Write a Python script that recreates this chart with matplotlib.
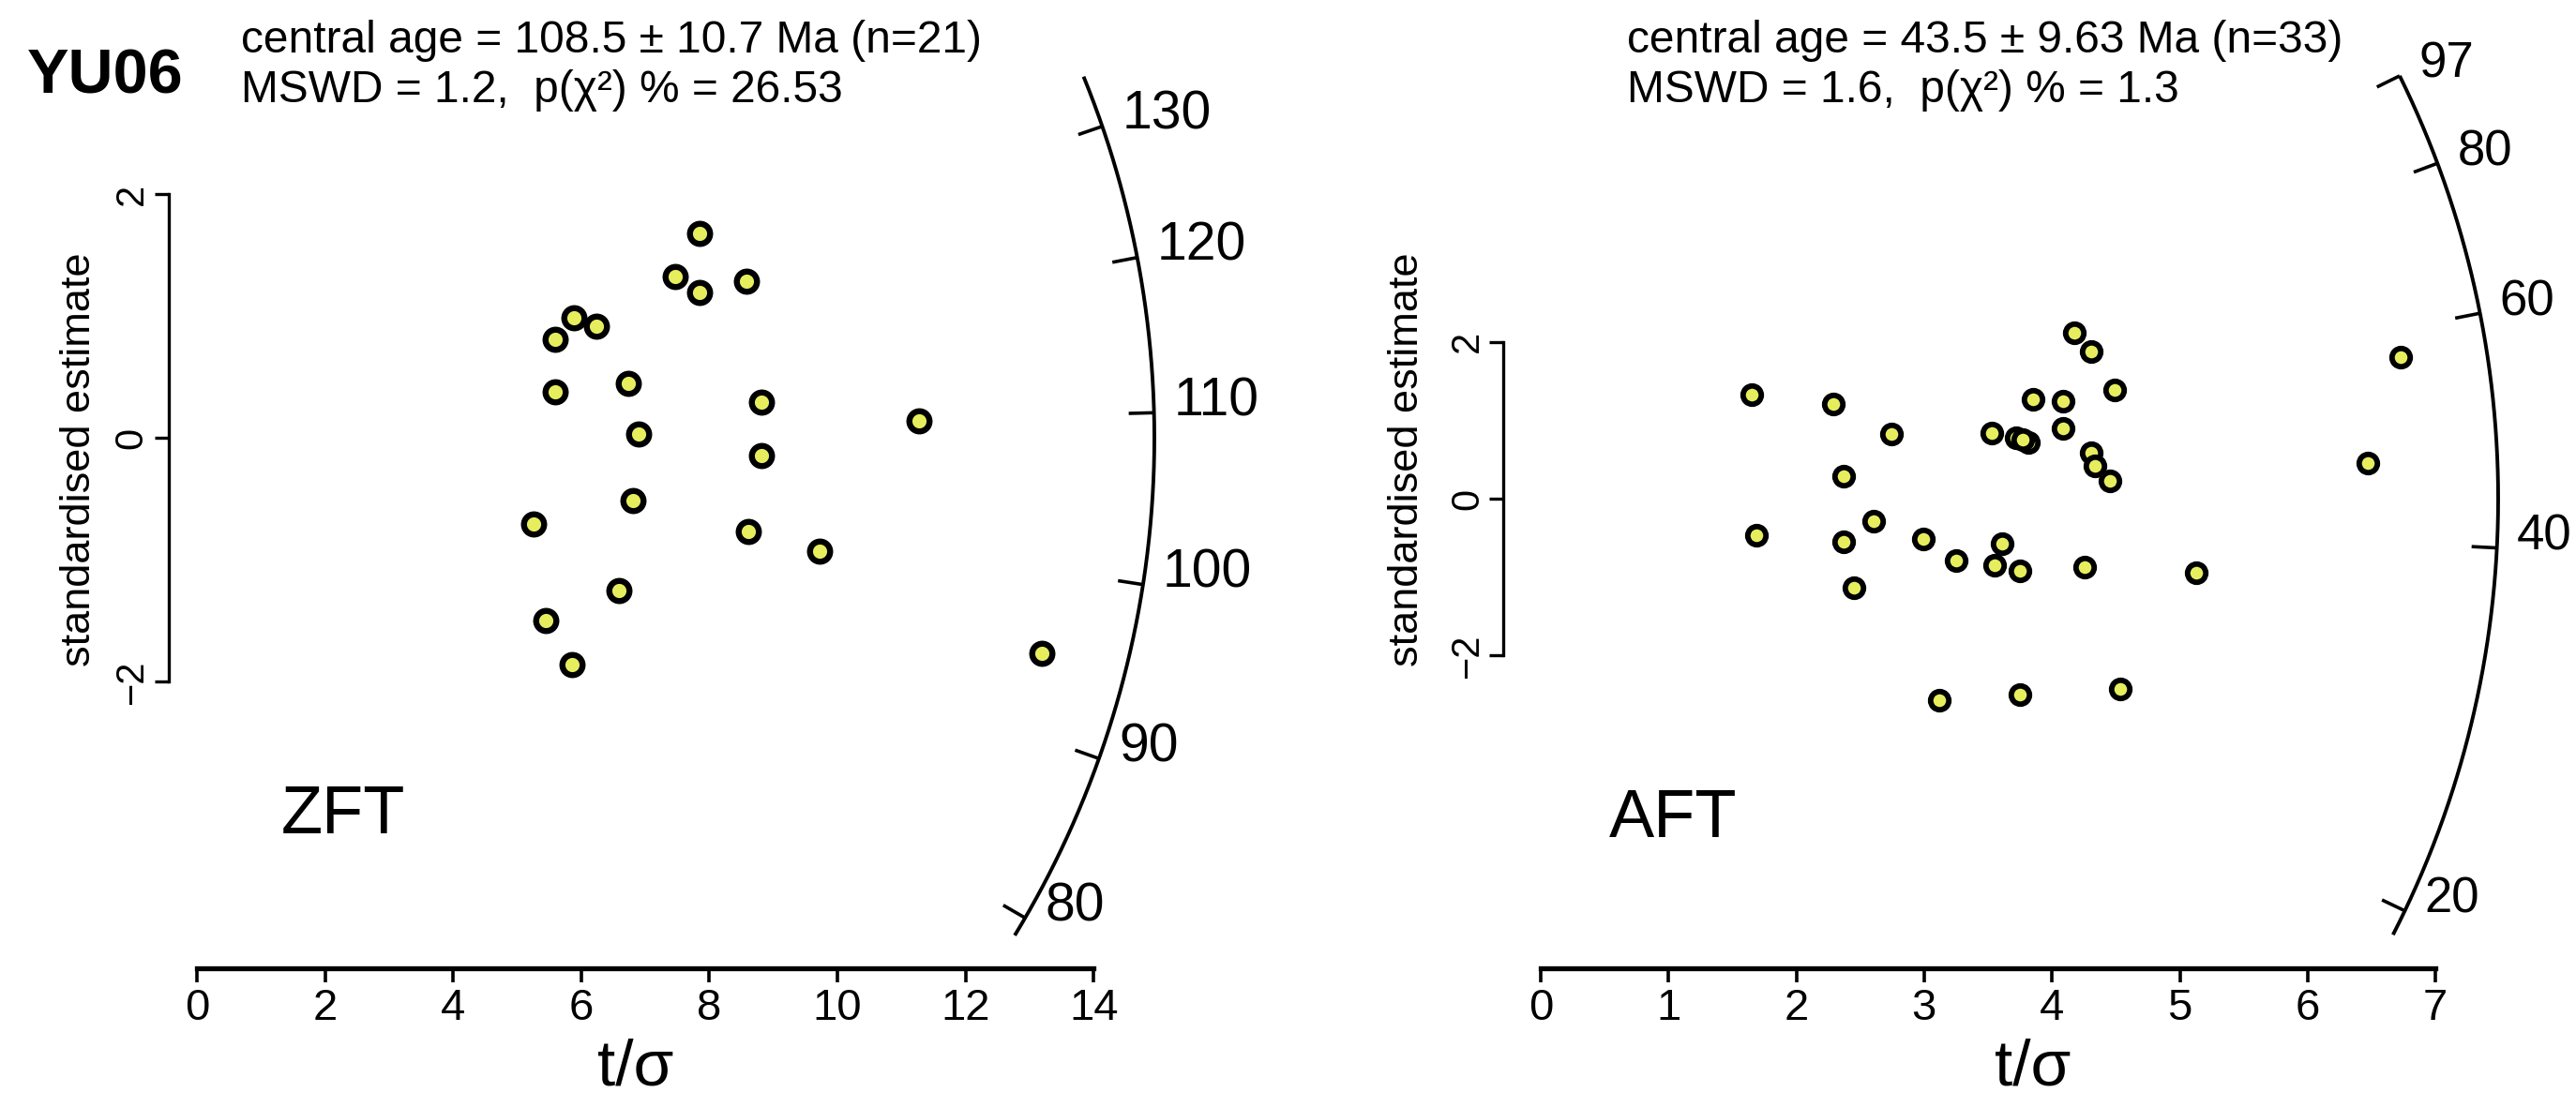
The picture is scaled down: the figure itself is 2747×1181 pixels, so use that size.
import numpy as np
import matplotlib
matplotlib.use("Agg")
import matplotlib.pyplot as plt
from matplotlib.transforms import offset_copy

# ---------------- data ----------------
zft_t_sigma = [7.85, 7.46, 7.85, 8.58, 5.88, 6.23, 5.60, 5.60, 6.73, 8.82, 11.27,
               6.89, 8.82, 6.81, 5.25, 8.61, 9.72, 6.59, 5.44, 5.86, 13.19]
zft_std_est = [1.677, 1.323, 1.192, 1.285, 0.985, 0.915, 0.808, 0.377, 0.446, 0.292, 0.138,
               0.031, -0.146, -0.515, -0.708, -0.770, -0.930, -1.254, -1.500, -1.862, -1.769]

aft_t_sigma = [4.175, 4.307, 4.490, 1.651, 2.289, 3.852, 4.087, 4.087, 2.744, 3.529, 3.720,
               3.815, 4.307, 4.336, 4.453, 2.370, 2.605, 1.687, 2.370, 2.993, 3.610,
               3.250, 3.551, 3.749, 4.255, 2.450, 6.728, 6.471, 5.128, 3.118, 3.749,
               4.534, 3.771]
aft_std_est = [2.115, 1.876, 1.386, 1.326, 1.207, 1.266, 1.243, 0.896, 0.824, 0.836, 0.777,
               0.717, 0.585, 0.418, 0.227, 0.287, -0.287, -0.466, -0.550, -0.514, -0.573,
               -0.789, -0.848, -0.920, -0.872, -1.135, 1.804, 0.454, -0.944, -2.569, -2.497,
               -2.425, 0.753]

zft_central_age = 108.5
aft_central_age = 43.5
zft_arc_ticks = [80, 90, 100, 110, 120, 130]
aft_arc_ticks = [20, 40, 60, 80, 97]
zft_arc_range = [78.8, 134.4]
aft_arc_range = [18.9, 97.0]
zft_xticks = [0, 2, 4, 6, 8, 10, 12, 14]
aft_xticks = [0, 1, 2, 3, 4, 5, 6, 7]
y_ticks = [-2, 0, 2]

zft_header = ["central age = 108.5 \u00b1 10.7 Ma (n=21)",
              "MSWD = 1.2,  p(\u03c7\u00b2) % = 26.53"]
aft_header = ["central age = 43.5 \u00b1 9.63 Ma (n=33)",
              "MSWD = 1.6,  p(\u03c7\u00b2) % = 1.3"]

# ---------------- figure ----------------
W, H = 2747, 1181
DPI = 100
plt.rcParams["font.family"] = ["Liberation Sans", "DejaVu Sans"]
fig = plt.figure(figsize=(W / DPI, H / DPI), dpi=DPI)
fig.patch.set_facecolor("white")

PT = DPI / 72.0  # px per point


def fx(px):
    return px / W


def fy(py):
    return 1 - py / H


def panel(box, origin, kx, ky, xt, yt, sx, sy, z_age, arc_range, arc_ticks,
          label_fs, ms, mew, ytick_pad):
    l, t, r, b = box
    ax = fig.add_axes([fx(l), fy(b), (r - l) / W, (b - t) / H])
    x0, y0 = origin
    ax.set_xlim((l - x0) / kx, (r - x0) / kx)
    ax.set_ylim((y0 - b) / ky, (y0 - t) / ky)
    ax.patch.set_alpha(0)
    for s in ("top", "right"):
        ax.spines[s].set_visible(False)
    ax.spines["bottom"].set_bounds(xt[0], xt[-1])
    ax.spines["bottom"].set_linewidth(3.8)
    ax.spines["bottom"].set_capstyle("projecting")
    ax.spines["left"].set_bounds(yt[0], yt[-1])
    ax.spines["left"].set_linewidth(2.4)
    ax.set_xticks(xt)
    ax.set_xticklabels([str(v) for v in xt])
    ax.set_yticks(yt)
    ax.set_yticklabels(["\u22122" if v < 0 else str(v) for v in yt])
    ax.tick_params(axis="x", direction="out", length=15 / PT, width=2.6,
                   labelsize=34, pad=4)
    ax.tick_params(axis="y", direction="out", length=15 / PT, width=2.4,
                   labelsize=30, pad=ytick_pad, labelrotation=90)
    for lab in ax.get_yticklabels():
        lab.set_va("center")

    # data points
    ax.plot(sx, sy, linestyle="none", marker="o", markersize=ms,
            markerfacecolor="#e6ee5e", markeredgecolor="black",
            markeredgewidth=mew, clip_on=False, zorder=3)

    # radial arc (circle in screen space)
    z0 = np.log(z_age)
    R = 1021.0

    def arc_xy(ages, rad):
        s = np.log(np.asarray(ages, dtype=float)) - z0
        f = rad / np.sqrt(kx ** 2 + (ky * s) ** 2)
        return f, f * s

    ages = np.exp(np.linspace(np.log(arc_range[0]), np.log(arc_range[1]), 400))
    ax_, ay_ = arc_xy(ages, R)
    ax.plot(ax_, ay_, color="black", lw=2.8, clip_on=False, solid_capstyle="butt")
    ox, oy = arc_xy(arc_ticks, R)
    ix, iy = arc_xy(arc_ticks, R - 27)
    trans = offset_copy(ax.transData, fig=fig, x=21, y=12, units="dots")
    for a, x1, y1, x2, y2 in zip(arc_ticks, ox, oy, ix, iy):
        ax.plot([x1, x2], [y1, y2], color="black", lw=2.6, clip_on=False,
                solid_capstyle="butt")
        ax.text(x1, y1, str(a), transform=trans, ha="left", va="center",
                fontsize=label_fs, clip_on=False)
    return ax


panel((180, 10, 1340, 1033), (210, 467), 68.3, 130.0, zft_xticks, y_ticks,
      zft_t_sigma, zft_std_est, zft_central_age, zft_arc_range, zft_arc_ticks,
      41, 15.5, 4.6, 3)
panel((1603, 10, 2740, 1033), (1643, 532), 136.3, 83.7, aft_xticks, y_ticks,
      aft_t_sigma, aft_std_est, aft_central_age, aft_arc_range, aft_arc_ticks,
      38, 14, 4.2, 2)

# ---------------- text ----------------
fig.text(fx(29), fy(100), "YU06", fontsize=48, fontweight="bold",
         ha="left", va="baseline")
for i, line in enumerate(zft_header):
    fig.text(fx(257), fy(56 + 53 * i), line, fontsize=34.5, ha="left", va="baseline")
for i, line in enumerate(aft_header):
    fig.text(fx(1735), fy(56 + 53 * i), line, fontsize=34.5, ha="left", va="baseline")

fig.text(fx(300), fy(889), "ZFT", fontsize=52, ha="left", va="baseline")
fig.text(fx(1716), fy(893), "AFT", fontsize=52, ha="left", va="baseline")

fig.text(fx(678), fy(1140), "t/\u03c3", fontsize=50, ha="center", va="center")
fig.text(fx(2168), fy(1140), "t/\u03c3", fontsize=50, ha="center", va="center")

fig.text(fx(85), fy(490), "standardised estimate", fontsize=32.5, rotation=90,
         ha="center", va="center")
fig.text(fx(1501), fy(490), "standardised estimate", fontsize=32.5, rotation=90,
         ha="center", va="center")

fig.savefig("out.png", dpi=DPI, facecolor="white")
